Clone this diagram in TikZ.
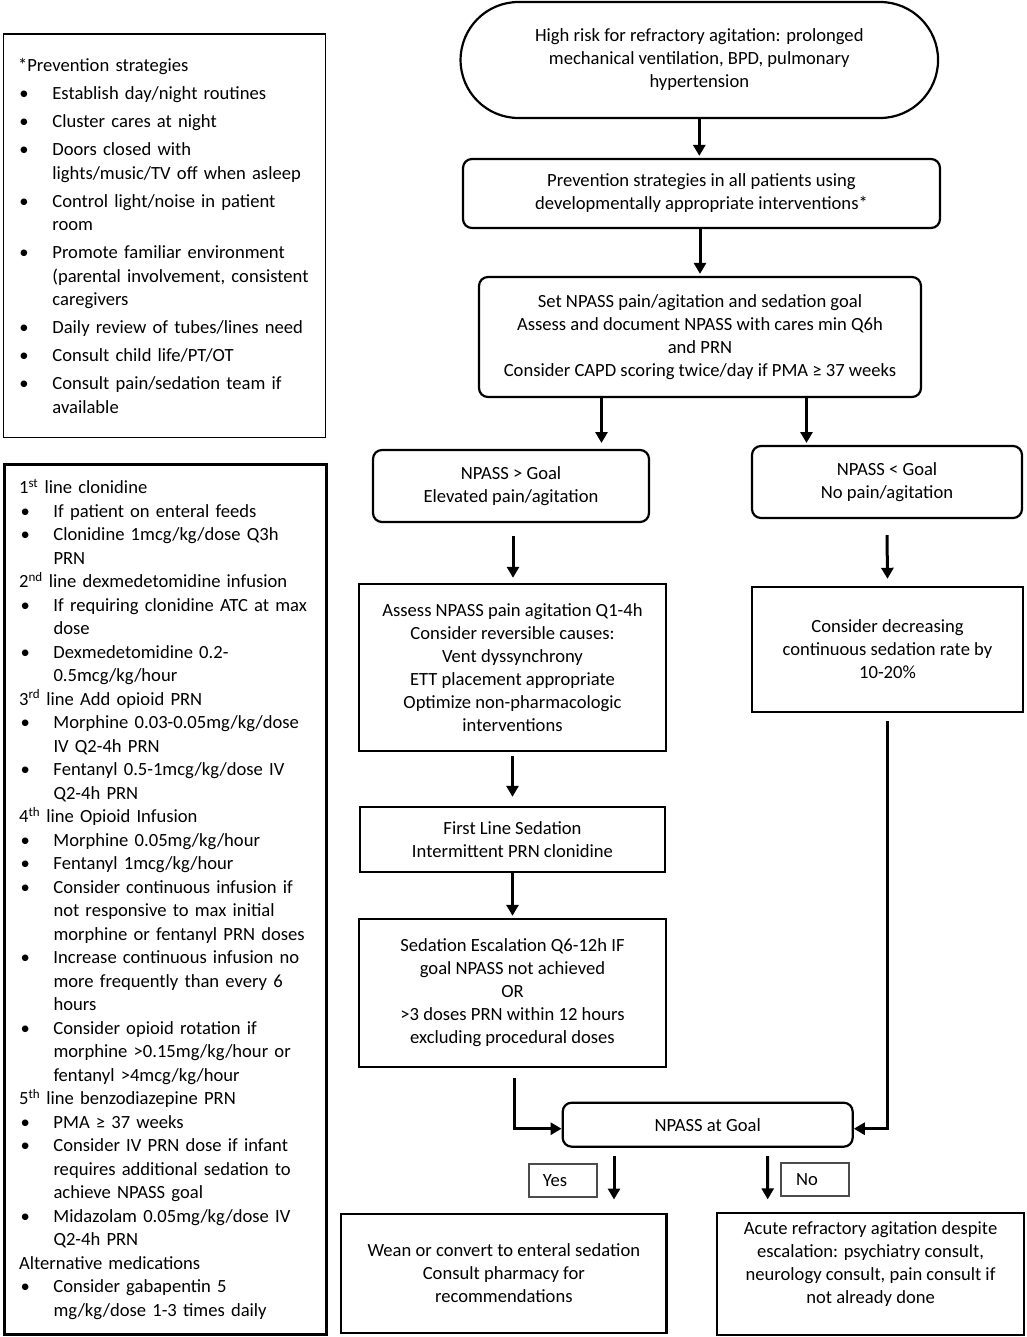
\documentclass[tikz,border=0pt]{standalone}
\usepackage{fontspec}
\setmainfont{Carlito}
\usetikzlibrary{arrows.meta}

\newcommand{\figfont}{\fontsize{18.6pt}{23pt}\selectfont}
\newcommand{\listfont}{\fontsize{18.6pt}{23.5pt}\selectfont}
\newcommand{\bul}{\makebox[34.4pt][l]{\hspace{1.5pt}\textbullet}}
\newcommand{\ind}{\hspace*{34.4pt}}

\tikzset{
  box/.style={draw, line width=2.4pt, font=\figfont, align=center, inner sep=0pt},
  roundbox/.style={box, line width=2.2pt, rounded corners=9pt},
  listbox/.style={draw, font=\listfont, align=left, text width=293pt,
    inner xsep=14.6pt, inner ysep=0pt, anchor=north west},
  tagbox/.style={draw=black!70, line width=1.1pt, font=\figfont, inner sep=0pt},
  arr/.style={line width=3pt, -{Triangle[length=11pt,width=12pt]}}
}

\begin{document}
\begin{tikzpicture}[x=1pt,y=-1pt]
	\useasboundingbox (0,0) rectangle (1026,1337);
	% left column
	\node[listbox, line width=1.4pt, minimum height=403.7pt] (prevlist) at (2.7,33.3) {*Prevention strategies\\[4.5pt]
		\bul Establish day/night routines\\[4.5pt]
		\bul Cluster cares at night\\[4.5pt]
		\bul Doors closed with\\
		\ind lights/music/TV off when asleep\\[4.5pt]
		\bul Control light/noise in patient\\
		\ind room\\[4.5pt]
		\bul Promote familiar environment\\
		\ind (parental involvement, consistent\\
		\ind caregivers\\[4.5pt]
		\bul Daily review of tubes/lines need\\[4.5pt]
		\bul Consult child life/PT/OT\\[4.5pt]
		\bul Consult pain/sedation team if\\
		\ind available};
	\node[listbox, line width=3pt, minimum height=870pt] (medlist) at (3,462.7) {1\textsuperscript{st} line clonidine\\
		\bul If patient on enteral feeds\\
		\bul Clonidine 1mcg/kg/dose Q3h\\
		\ind PRN\\
		2\textsuperscript{nd} line dexmedetomidine infusion\\
		\bul If requiring clonidine ATC at max\\
		\ind dose\\
		\bul Dexmedetomidine 0.2-\\
		\ind 0.5mcg/kg/hour\\
		3\textsuperscript{rd} line Add opioid PRN\\
		\bul Morphine 0.03-0.05mg/kg/dose\\
		\ind IV Q2-4h PRN\\
		\bul Fentanyl 0.5-1mcg/kg/dose IV\\
		\ind Q2-4h PRN\\
		4\textsuperscript{th} line Opioid Infusion\\
		\bul Morphine 0.05mg/kg/hour\\
		\bul Fentanyl 1mcg/kg/hour\\
		\bul Consider continuous infusion if\\
		\ind not responsive to max initial\\
		\ind morphine or fentanyl PRN doses\\
		\bul Increase continuous infusion no\\
		\ind more frequently than every 6\\
		\ind hours\\
		\bul Consider opioid rotation if\\
		\ind morphine >0.15mg/kg/hour or\\
		\ind fentanyl >4mcg/kg/hour\\
		5\textsuperscript{th} line benzodiazepine PRN\\
		\bul PMA ≥ 37 weeks\\
		\bul Consider IV PRN dose if infant\\
		\ind requires additional sedation to\\
		\ind achieve NPASS goal\\
		\bul Midazolam 0.05mg/kg/dose IV\\
		\ind Q2-4h PRN\\
		Alternative medications\\
		\bul Consider gabapentin 5\\
		\ind mg/kg/dose 1-3 times daily};
	% flow chart
	\node[box, line width=2.2pt, rounded corners=58pt, minimum width=477.5pt, minimum height=116pt] (risk) at (699.3,60) {High risk for refractory agitation: prolonged\\ mechanical ventilation, BPD, pulmonary\\ hypertension};
	\node[roundbox, minimum width=477pt, minimum height=69pt] (prev) at (701.5,193.5) {Prevention strategies in all patients using\\ developmentally appropriate interventions*};
	\node[roundbox, minimum width=442pt, minimum height=120pt] (setgoal) at (700,337) {Set NPASS pain/agitation and sedation goal\\ Assess and document NPASS with cares min Q6h\\ and PRN\\ Consider CAPD scoring twice/day if PMA ≥ 37 weeks};
	\node[roundbox, minimum width=276pt, minimum height=72pt] (high) at (511,486) {NPASS > Goal\\ Elevated pain/agitation};
	\node[roundbox, minimum width=270pt, minimum height=72pt] (low) at (887,482) {NPASS < Goal\\ No pain/agitation};
	\node[box, minimum width=307pt, minimum height=167pt] (assess) at (512.5,667.5) {Assess NPASS pain agitation Q1-4h\\ Consider reversible causes:\\ Vent dyssynchrony\\ ETT placement appropriate\\ Optimize non-pharmacologic\\ interventions};
	\node[box, minimum width=271pt, minimum height=125pt] (decrease) at (887.5,649.5) {Consider decreasing\\ continuous sedation rate by\\ 10-20\%};
	\node[box, minimum width=305pt, minimum height=65pt] (firstline) at (512.5,839.5) {First Line Sedation\\ Intermittent PRN clonidine};
	\node[box, minimum width=307pt, minimum height=148pt] (escalate) at (512.5,993) {Sedation Escalation Q6-12h IF\\ goal NPASS not achieved\\ OR\\ >3 doses PRN within 12 hours\\ excluding procedural doses};
	\node[roundbox, minimum width=290pt, minimum height=44pt] (atgoal) at (707.7,1124.7) {NPASS at Goal};
	\node[tagbox, minimum width=68pt, minimum height=33pt] (yes) at (563,1180.5) {Yes\kern16pt};
	\node[tagbox, minimum width=68pt, minimum height=33pt] (no) at (815,1179.5) {No\kern16pt};
	\node[box, minimum width=325.7pt, minimum height=119pt] (wean) at (503.8,1273.5) {Wean or convert to enteral sedation\\ Consult pharmacy for\\ recommendations};
	\node[box, minimum width=306.7pt, minimum height=121.7pt,
		label={[name=refracttext, font=\figfont, align=center, yshift=10pt]center:Acute refractory agitation despite\\ escalation: psychiatry consult,\\ neurology consult, pain consult if\\ not already done}] (refract) at (870.6,1274) {};
	% arrows
	\coordinate (hightop) at (601.5,443);
	\coordinate (lowtop) at (806.5,443);
	\draw[arr, shorten >=2pt] (risk.south) -- (risk.south |- prev.north);
	\draw[arr, shorten >=2pt] (setgoal.north |- prev.south) -- (setgoal.north);
	\draw[arr] (setgoal.south -| hightop) -- (hightop);
	\draw[arr] (setgoal.south -| lowtop) -- (lowtop);
	\draw[arr] ([xshift=2pt,yshift=-13pt]high.south) -- ([xshift=0.5pt,yshift=5pt]assess.north);
	\draw[arr] ([yshift=-16pt]low.south) -- ([yshift=7pt]decrease.north);
	\draw[arr] ([yshift=-4pt]assess.south) -- ([yshift=9pt]firstline.north);
	\draw[arr] (firstline.south) -- ([yshift=2pt]escalate.north);
	\draw[arr] ([xshift=1.5pt,yshift=-10pt]escalate.south) |- ([yshift=-4pt]atgoal.west);
	\draw[arr] ([yshift=-8pt]decrease.south) |- ([yshift=-4pt]atgoal.east);
	\draw[arr] ([xshift=-93.7pt,yshift=-8.3pt]atgoal.south) -- ([xshift=110.2pt,yshift=13.3pt]wean.north);
	\draw[arr] ([xshift=60pt,yshift=-8.3pt]atgoal.south) -- ([xshift=-102.9pt,yshift=12.6pt]refract.north);
\end{tikzpicture}
\end{document}
